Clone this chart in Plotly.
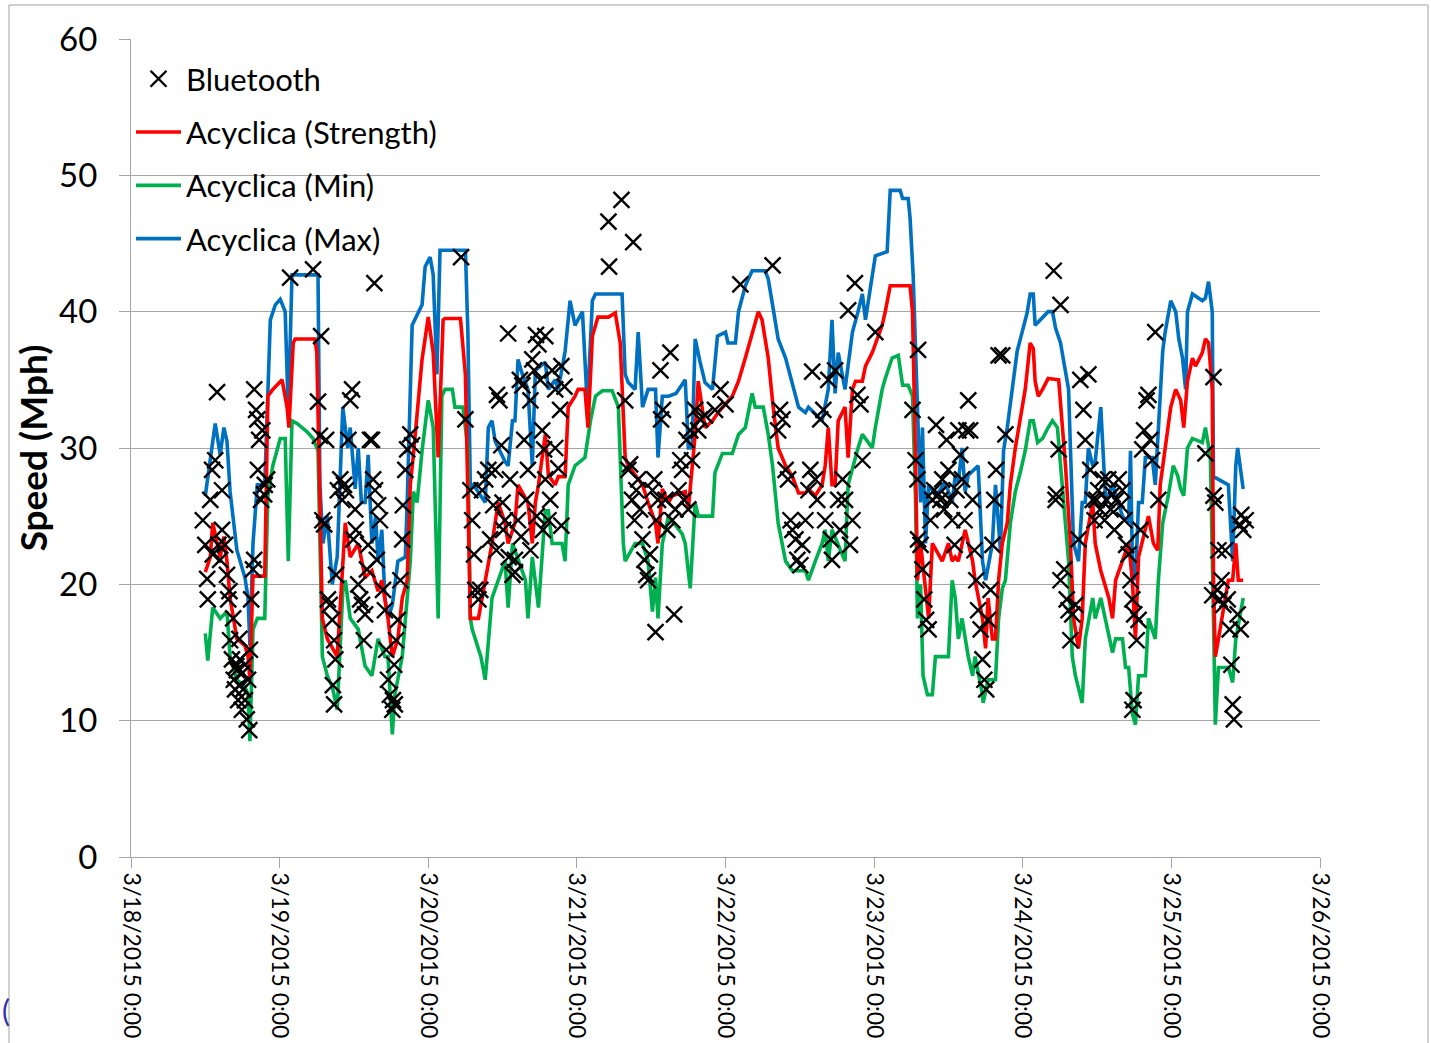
import pandas as pd
import plotly.graph_objects as go

# ---------------- data (hours since 3/18/2015 0:00, speed in mph) ----------------
max_hours = [12.0, 13.6, 14.4, 15.0, 15.5, 16.0, 17.1, 17.6, 18.4, 18.9, 19.2, 19.7, 20.4, 21.6, 22.5, 23.3, 24.1, 24.9, 25.4,
             26.0, 30.2, 30.5, 31.0, 31.7, 32.5, 33.3, 34.2, 35.0, 35.4, 36.2, 36.7, 37.2, 37.8, 38.3, 38.9, 39.5, 39.9, 40.5,
             41.0, 41.5, 42.2, 43.1, 44.3, 44.6, 45.1, 45.4, 47.0, 47.5, 48.3, 48.8, 49.4, 49.9, 54.0, 54.4, 54.8, 55.3, 57.2,
             57.7, 58.3, 58.8, 60.4, 60.9, 61.6, 62.0, 62.5, 63.2, 64.1, 64.8, 65.3, 66.9, 67.4, 68.5, 69.0, 70.1, 70.9, 71.7,
             72.9, 73.7, 74.5, 75.0, 79.3, 79.8, 80.3, 81.4, 81.9, 82.6, 83.5, 84.7, 85.1, 85.8, 86.8, 88.0, 89.5, 90.0, 90.6,
             91.1, 91.9, 92.7, 93.9, 94.7, 96.0, 96.4, 97.6, 98.1, 99.2, 100.3, 102.4, 102.9, 103.6, 104.5, 105.7, 106.8, 107.8,
             108.9, 109.4, 110.5, 111.6, 112.6, 113.2, 113.7, 114.2, 115.3, 116.5, 117.4, 118.1, 118.6, 119.7, 120.2, 122.1,
             122.6, 124.2, 124.6, 125.5, 125.8, 126.3, 126.7, 127.0, 127.5, 127.8, 128.3, 128.8, 130.0, 131.5, 132.6, 133.1,
             133.6, 134.2, 134.7, 135.2, 136.8, 137.5, 138.0, 139.1, 139.6, 140.4, 140.9, 141.5, 142.0, 142.5, 143.1, 143.9,
             144.7, 145.2, 145.7, 146.0, 146.8, 148.1, 148.8, 149.3, 150.1, 150.9, 151.4, 151.7, 152.2, 153.0, 153.6, 154.1,
             154.6, 155.3, 155.7, 156.6, 157.4, 158.5, 160.1, 161.1, 161.4, 161.7, 162.2, 162.7, 163.3, 163.8, 164.9, 165.4,
             165.9, 166.6, 167.0, 167.9, 168.7, 169.2, 169.8, 170.3, 170.6, 171.4, 173.0, 173.5, 174.0, 174.6, 174.8, 177.2,
             177.9, 178.4, 178.7, 179.6]
max_speed = [26.5, 31.8, 29.5, 31.5, 30.5, 26.8, 22.5, 21.7, 20.5, 19.0, 15.5, 23.0, 27.3, 27.3, 39.4, 40.5, 40.9, 40.0, 32.6,
             42.7, 42.7, 27.3, 23.0, 25.0, 20.0, 22.0, 33.0, 30.0, 31.5, 27.0, 30.0, 26.0, 26.0, 29.5, 23.0, 25.0, 21.7, 24.0,
             19.0, 17.5, 18.5, 21.7, 22.0, 26.0, 34.3, 39.0, 40.5, 43.3, 44.0, 42.7, 35.4, 44.5, 44.5, 38.5, 27.0, 27.3, 26.0,
             31.5, 32.0, 30.5, 29.0, 28.7, 32.0, 32.0, 36.5, 35.4, 34.3, 28.7, 35.7, 36.3, 34.3, 35.0, 34.3, 37.1, 40.8, 39.0,
             40.0, 33.0, 40.8, 41.3, 41.3, 35.4, 34.8, 34.3, 38.5, 33.0, 34.3, 34.3, 29.3, 33.8, 33.8, 34.0, 35.0, 30.0, 30.0,
             38.0, 36.3, 34.8, 34.3, 38.2, 38.5, 37.7, 37.7, 40.0, 41.9, 43.0, 43.0, 42.4, 40.5, 38.0, 36.6, 34.8, 33.0,
             32.6, 33.0, 32.5, 32.0, 34.3, 39.4, 34.0, 37.0, 34.3, 38.5, 40.0, 41.3, 39.4, 42.7, 44.1, 44.4,
             48.9, 48.9, 48.3, 48.3, 46.9, 42.7, 37.1, 31.5, 26.0, 31.5, 23.0, 27.3, 26.5, 27.5, 26.0, 28.0,
             27.5, 30.0, 26.8, 28.0, 28.7, 21.7, 20.3, 23.0, 27.3, 22.5, 29.8, 31.5, 33.2, 35.4, 37.1, 38.5,
             39.9, 41.3, 41.3, 39.0, 39.4, 40.0, 40.0, 38.8, 37.7, 35.7, 34.3, 30.0, 23.0, 21.7, 26.0, 26.0,
             30.0, 28.7, 29.0, 33.0, 26.0, 27.3, 25.0, 24.5, 29.8, 21.7, 20.3, 26.0, 26.0, 29.3, 29.3, 27.3,
             31.5, 37.1, 38.5, 40.8, 40.0, 38.0, 36.6, 34.3, 40.0, 41.3, 40.8, 41.0, 42.2, 40.0, 27.9, 27.3,
             21.7, 28.7, 30.0, 27.0]

strength_hours = [12.0, 12.8, 13.2, 13.9, 14.4, 15.0, 15.5, 16.0, 17.1, 18.4, 18.9, 19.2, 19.7, 21.6, 22.1, 22.9, 24.4, 25.2,
                  25.5, 26.2, 26.5, 29.7, 30.0, 30.9, 31.7, 33.3, 34.2, 34.6, 35.4, 36.7, 37.8, 38.9, 39.9, 40.5, 41.5, 42.2,
                  43.1, 43.8, 44.6, 45.1, 45.6, 47.0, 48.0, 48.8, 49.6, 50.4, 50.7, 53.2, 54.0, 54.4, 54.8, 56.1, 57.2, 58.3,
                  59.3, 60.4, 60.9, 62.0, 62.5, 64.1, 64.8, 65.3, 65.8, 66.9, 67.4, 68.5, 69.0, 70.1, 70.6, 71.7, 72.2, 73.3,
                  73.8, 74.5, 75.4, 77.1, 78.2, 79.0, 79.8, 80.3, 82.6, 83.5, 84.7, 85.1, 85.8, 86.8, 87.4, 89.5, 90.0, 91.1,
                  91.6, 92.7, 93.9, 94.8, 97.1, 98.1, 99.2, 100.3, 101.3, 101.9, 102.9, 103.7, 104.5, 105.7, 106.8, 107.8,
                  108.9, 109.4, 110.5, 111.6, 112.1, 112.6, 113.2, 113.7, 114.2, 115.3, 115.8, 116.5, 117.0, 118.1, 118.6,
                  119.7, 121.3, 121.8, 122.6, 125.8, 126.2, 126.7, 127.0, 127.5, 128.8, 129.4, 131.0, 132.0, 132.6, 133.1,
                  133.6, 134.7, 135.9, 136.3, 137.5, 138.0, 138.4, 139.1, 139.6, 140.1, 140.7, 141.5, 142.0, 142.8, 143.6,
                  144.4, 145.2, 145.7, 146.0, 146.5, 147.2, 148.1, 149.8, 150.4, 150.9, 151.7, 152.2, 153.0, 153.6, 154.1,
                  155.3, 155.7, 156.6, 157.9, 158.5, 159.0, 161.1, 161.7, 162.2, 162.7, 164.3, 165.1, 165.8, 166.2, 167.0,
                  167.9, 168.7, 169.5, 170.0, 170.6, 171.4, 171.9, 173.0, 173.5, 174.0, 174.6, 174.8, 175.1, 175.6, 177.2,
                  177.9, 178.4, 178.8, 179.6]
strength_speed = [20.9, 22.0, 24.5, 23.0, 22.0, 23.5, 21.7, 19.0, 16.0, 15.5, 14.7, 13.0, 20.6, 20.6, 33.8, 34.3, 35.0, 33.0,
                  31.5, 37.7, 38.0, 38.0, 37.0, 17.5, 16.0, 14.7, 21.7, 24.5, 22.0, 23.0, 20.5, 21.0, 19.5, 20.3, 17.5, 14.7,
                  16.0, 19.0, 20.3, 27.3, 29.5, 36.5, 39.6, 37.0, 29.3, 39.4, 39.5, 39.5, 35.4, 26.0, 17.5, 17.5, 20.3, 23.0,
                  26.0, 24.5, 23.0, 24.5, 27.3, 26.0, 23.0, 26.0, 27.3, 31.0, 28.0, 27.3, 27.9, 27.9, 33.0, 33.8, 34.3, 34.3,
                  31.5, 38.2, 39.6, 39.6, 39.9, 37.7, 29.3, 28.7, 27.3, 26.0, 24.5, 23.0, 27.0, 26.0, 26.5, 26.8, 25.5, 31.0,
                  34.9, 31.5, 32.0, 32.6, 33.8, 34.9, 36.6, 38.5, 40.0, 39.4, 36.6, 33.0, 30.0, 28.7, 27.9, 26.7,
                  26.7, 27.0, 26.5, 27.3, 28.7, 31.5, 27.3, 27.3, 32.0, 33.0, 29.3, 34.3, 34.9, 34.9, 36.0,
                  37.0, 39.0, 40.0, 41.9, 41.9, 40.0, 28.7, 20.3, 23.0, 17.5, 23.0, 21.7, 23.0, 21.7, 22.0,
                  21.7, 24.0, 21.7, 20.3, 17.5, 15.3, 19.0, 16.0, 16.0, 20.3, 23.0, 24.5, 27.3, 30.0, 32.0,
                  34.3, 37.7, 37.3, 34.9, 33.8, 34.3, 35.1, 35.0, 31.5, 28.7, 23.0, 17.5, 15.3, 17.5, 23.0,
                  26.0, 23.0, 21.0, 19.0, 17.5, 20.3, 23.0, 20.3, 16.0, 22.0, 25.0, 23.0, 22.5, 27.3, 29.8,
                  33.0, 34.3, 33.5, 31.5, 34.9, 36.6, 36.0, 37.0, 38.0, 37.7, 34.3, 20.3, 14.7, 16.0, 20.3,
                  20.3, 23.0, 20.3, 20.3]

min_hours = [12.0, 12.4, 13.2, 14.4, 15.5, 16.0, 17.1, 18.4, 18.9, 19.2, 19.7, 20.4, 21.6, 22.1, 22.9, 24.1, 24.9, 25.4, 26.0,
             26.8, 28.4, 29.4, 30.2, 30.9, 31.7, 32.5, 33.3, 34.2, 34.6, 35.4, 36.7, 37.8, 38.9, 39.9, 41.0, 41.5, 42.2, 42.6,
             43.8, 44.3, 45.1, 45.6, 46.2, 47.0, 48.0, 48.8, 49.6, 50.2, 50.7, 51.9, 52.3, 53.6, 54.4, 54.8, 55.1, 56.5, 57.2,
             58.3, 60.4, 60.9, 61.6, 63.7, 64.1, 64.8, 65.8, 66.9, 67.4, 68.0, 69.6, 70.1, 70.6, 71.7, 73.3, 74.2, 75.0, 76.1,
             77.7, 78.7, 79.5, 79.8, 81.4, 82.6, 83.5, 84.2, 84.7, 85.1, 85.8, 86.8, 89.0, 89.5, 90.3, 91.1, 91.6, 93.9, 94.3,
             95.5, 97.1, 98.1, 99.2, 100.3, 100.8, 102.1, 102.9, 103.6, 104.5, 105.7, 106.8, 108.9, 109.4, 110.5, 111.6,
             112.1, 112.6, 113.2, 115.3, 115.8, 116.6, 117.4, 118.1, 119.7, 120.2, 121.3, 121.8, 122.9, 123.9, 124.6, 125.5,
             126.2, 126.7, 127.0, 127.5, 127.9, 128.6, 129.4, 129.9, 132.0, 132.6, 133.1, 133.6, 134.2, 135.2, 135.9, 136.3,
             137.5, 137.6, 138.4, 139.6, 140.1, 140.7, 141.2, 142.0, 142.8, 143.6, 144.4, 145.2, 145.7, 146.4, 147.2, 148.1,
             148.8, 149.6, 150.4, 150.9, 151.4, 152.0, 152.5, 153.6, 154.1, 155.3, 155.7, 156.6, 157.9, 158.5, 159.0, 160.1,
             160.6, 161.1, 161.7, 162.2, 162.7, 163.8, 164.3, 165.4, 165.9, 166.6, 167.5, 168.3, 169.0, 169.5, 170.0, 170.6,
             171.4, 173.0, 173.5, 174.3, 174.8, 175.1, 175.6, 177.2, 177.9, 178.4, 179.6]
min_speed = [16.4, 14.4, 18.3, 17.5, 18.0, 14.7, 13.0, 12.5, 11.9, 8.5, 16.7, 17.5, 17.5, 26.5, 28.7, 30.7, 30.7, 21.7, 32.0,
             31.8, 31.2, 30.7, 29.8, 14.7, 13.3, 12.5, 10.8, 19.5, 20.3, 17.5, 16.7, 14.0, 13.3, 16.0, 14.7, 14.7, 9.0, 11.9,
             14.7, 17.5, 21.7, 26.8, 26.0, 29.8, 33.5, 31.5, 17.5, 33.8, 34.3, 34.3, 33.0, 33.0, 30.0, 17.5, 16.7, 14.7, 13.0,
             19.0, 21.7, 18.3, 23.0, 20.3, 17.5, 22.0, 18.3, 25.4, 25.4, 23.0, 23.0, 21.7, 27.3, 28.7, 29.3, 32.0, 33.8, 34.2,
             34.2, 33.0, 23.0, 21.7, 23.0, 23.0, 21.7, 18.0, 20.5, 17.5, 23.0, 25.0, 23.7, 23.0, 19.7, 26.0, 25.0, 25.0, 28.2,
             29.6, 29.6, 31.0, 31.5, 34.0, 33.0, 33.0, 31.0, 28.7, 24.5, 21.7, 21.0, 21.0, 20.3, 21.7, 23.0,
             24.0, 21.7, 24.0, 21.7, 27.3, 28.7, 30.0, 31.0, 30.0, 31.5, 34.3, 35.1, 36.6, 36.8, 34.6, 34.6,
             33.8, 26.0, 17.5, 20.0, 13.3, 11.9, 11.9, 14.7, 14.7, 20.3, 19.0, 16.0, 17.5, 14.7, 13.3, 14.7,
             11.9, 11.3, 13.0, 13.0, 17.5, 19.7, 20.3, 24.5, 26.8, 28.2, 29.8, 32.0, 32.0, 30.4, 30.7, 31.5,
             32.0, 31.5, 27.3, 24.5, 21.7, 14.7, 13.3, 11.3, 16.0, 19.0, 17.5, 19.0, 16.4, 15.0, 16.0, 16.0,
             13.9, 13.9, 10.5, 9.7, 13.3, 13.3, 17.5, 16.0, 20.3, 24.5, 26.5, 28.7, 28.0, 27.0, 26.5, 30.0,
             30.7, 30.4, 31.5, 29.3, 17.5, 9.7, 13.9, 13.9, 12.8, 16.0, 19.0]

bt_hours = [11.6, 12.0, 12.3, 12.4, 12.8, 13.1, 13.2, 13.6, 13.9, 14.1, 14.4, 14.7, 14.7, 15.2, 15.5, 15.7, 15.9, 16.0, 16.3,
            16.5, 16.6, 16.8, 17.0, 17.1, 17.3, 17.5, 17.6, 17.6, 17.9, 18.0, 18.1, 18.4, 18.4, 18.7, 18.9, 19.1, 19.2, 19.4,
            19.7, 19.9, 19.9, 20.2, 20.4, 20.5, 20.7, 21.0, 21.2, 21.5, 21.6, 22.0,
            25.7, 29.4, 30.2, 30.7, 30.5, 30.9, 31.2, 31.5, 31.8, 32.1, 32.5, 32.8, 33.0, 32.6, 32.8, 33.1, 33.4, 33.8, 34.1,
            34.4, 34.7, 35.1, 35.4, 35.7, 35.9, 36.2, 36.3, 36.7, 37.0, 37.3, 37.6, 37.8, 38.1, 38.3, 38.6, 38.9, 39.1, 39.3,
            39.4, 39.7, 39.9, 40.2, 40.7, 41.0, 41.2, 41.5, 41.8, 42.2, 42.3, 42.6, 42.5, 42.8, 43.1, 43.5, 43.8, 43.9, 44.3,
            44.6, 45.1, 45.4,
            53.3, 54.0, 54.8, 55.1, 55.4, 55.6, 56.1, 56.4, 56.7, 57.2, 57.7, 58.0, 58.5, 58.8, 59.0, 59.1, 59.5, 59.8, 60.0,
            60.1, 60.4, 60.9, 61.0, 61.2, 61.6, 62.0, 62.0, 62.5, 62.8, 63.0, 63.2, 63.5, 63.8, 64.1, 64.5, 64.5, 64.8, 65.1,
            65.4, 65.5, 65.8, 66.1, 66.4, 66.5, 66.7, 66.9, 66.9, 67.4, 67.7, 68.0, 68.5, 68.5, 69.0, 69.3, 69.5, 69.5, 70.0,
            77.1, 79.2, 81.1, 77.2,
            79.8, 80.3, 80.6, 80.9, 81.3, 81.6, 81.9, 82.2, 82.6, 82.9, 83.2, 83.5, 83.8, 84.2, 84.5, 84.7, 84.8, 85.1, 85.5,
            85.6, 85.9, 86.3, 86.6, 87.1, 87.4, 87.7, 87.9, 88.4, 88.7, 89.0, 89.3, 89.7, 90.0, 90.3, 90.6, 91.1, 91.6, 91.9,
            92.7, 94.3, 95.2, 96.0, 98.4, 103.6,
            104.5, 104.8, 105.2, 105.7, 106.1, 106.5, 106.8, 107.3, 107.6, 108.1, 108.4, 108.9, 109.4, 109.7, 110.0, 110.5,
            110.8, 111.3, 111.8, 112.1, 112.6, 113.0, 113.2, 113.7, 114.2, 114.5, 114.9, 115.3, 115.8, 116.1, 116.5, 116.9,
            117.3, 117.8, 118.1, 120.2,
            127.1, 126.2, 126.7, 127.0, 127.1, 127.5, 127.8, 128.1, 128.4, 128.8, 129.1, 129.4, 129.7, 130.0, 130.4, 130.7,
            131.0, 131.3, 131.7, 132.0, 132.3, 132.6, 133.0, 133.3, 133.6, 133.9, 134.2, 134.6, 134.9, 135.2, 135.5, 135.9,
            136.2, 136.5, 136.8, 137.2, 137.5, 137.8, 138.1, 138.4, 138.8, 139.1, 139.4, 139.7, 140.1, 140.7, 141.2,
            149.0, 150.1, 149.4, 149.8, 149.3, 150.1, 150.7, 151.1, 151.4, 151.7, 152.0, 152.5, 153.0, 153.3, 153.8, 154.1,
            154.6, 154.9, 155.3, 155.6, 155.9, 156.2, 156.5, 156.9, 157.2, 157.5, 157.8, 158.2, 158.5, 158.8, 159.1, 159.5,
            159.8, 160.1, 160.4, 160.7, 161.1, 161.4, 161.7, 162.0, 162.4, 161.9, 161.7, 162.7, 163.0, 163.3, 163.6, 164.0,
            164.3, 164.6, 164.9, 165.4, 165.9,
            173.5, 174.8, 174.8, 175.1, 175.4, 175.8, 176.1, 176.4, 176.7, 177.1, 177.4, 177.7, 177.9, 178.1, 178.7, 179.0,
            179.3, 179.6, 180.0, 179.2, 175.6, 174.6]
bt_speed = [24.7, 22.9, 20.4, 18.9, 26.2, 28.4, 22.2, 29.1, 34.1, 22.9, 21.8, 26.9, 24.0, 22.9, 20.7, 18.9, 19.5, 15.9, 14.5,
            17.5, 13.0, 12.3, 14.0, 13.7, 11.5, 16.0, 14.5, 12.6, 10.8, 13.5, 12.3, 14.1, 11.5, 10.1, 13.0, 9.3, 15.2, 18.9,
            21.1, 21.8, 34.3, 32.8, 32.1, 28.4, 30.6, 26.2, 31.3, 26.6, 27.3, 27.7,
            42.5, 43.1, 33.4, 38.2, 30.9, 24.7, 24.4, 30.6, 18.9, 18.5, 17.4, 15.9, 14.5, 12.6, 11.2, 20.7, 26.9, 27.7, 26.2,
            27.3, 26.9, 30.6, 33.5, 34.3, 23.3, 25.5, 24.0, 20.0, 18.9, 18.5, 15.9, 17.8, 21.1, 22.9, 30.6, 30.6, 27.7, 42.1,
            26.9, 21.8, 25.8, 24.7, 19.6, 18.1, 15.2, 13.0, 11.9, 10.8, 11.5, 11.2, 14.1, 15.9, 17.4, 20.3, 23.3, 25.8, 28.4,
            29.9, 31.0, 30.2,
            44.0, 32.1, 26.9, 24.7, 22.2, 19.6, 18.9, 19.6, 26.9, 27.7, 28.4, 23.3, 25.8, 28.4, 22.5, 33.9, 33.5, 30.2, 26.0,
            24.0, 24.7, 38.4, 22.0, 27.7, 20.7, 21.8, 20.9, 24.7, 35.0, 23.5, 34.6, 30.6, 26.2, 28.4, 33.5, 22.5, 36.5, 35.7,
            38.3, 25.0, 37.6, 35.0, 31.3, 24.0, 29.9, 27.7, 38.2, 24.7, 26.2, 35.7, 34.3, 30.0, 28.5, 32.8, 36.0, 24.3, 34.5,
            46.6, 48.2, 45.1, 43.3,
            33.5, 28.4, 28.8, 26.2, 24.7, 26.9, 27.7, 25.5, 23.3, 21.8, 20.7, 20.3, 22.2, 26.9, 27.7, 16.5, 24.7, 26.2, 35.7,
            32.1, 32.8, 26.2, 24.0, 37.0, 24.7, 17.8, 25.5, 26.9, 29.1, 28.4, 26.2, 30.6, 25.5, 31.3, 29.1, 32.8, 31.3, 32.1,
            32.4, 32.8, 34.3, 33.2, 42.0, 43.4,
            31.3, 32.8, 32.1, 28.4, 27.7, 24.7, 24.0, 23.3, 21.8, 21.4, 22.9, 24.7, 26.9, 28.4, 35.6, 27.7,
            26.2, 32.1, 32.8, 24.7, 35.0, 23.3, 21.8, 35.7, 26.2, 24.0, 27.7, 26.2, 40.1, 22.9, 24.7, 42.1,
            33.9, 33.2, 29.1, 38.5,
            37.2, 32.8, 29.1, 27.7, 23.3, 22.9, 21.1, 18.9, 17.4, 16.7, 24.7, 26.2, 26.9, 31.7, 26.6, 26.2,
            27.7, 25.5, 30.6, 28.4, 26.2, 24.7, 22.9, 26.9, 31.3, 29.5, 27.7, 24.7, 31.3, 33.5, 31.3, 26.2,
            22.5, 20.3, 18.1, 16.7, 14.5, 13.0, 12.3, 17.4, 19.6, 22.9, 26.2, 28.4, 36.8, 36.8, 31.0,
            43.0, 40.5, 26.6, 29.9, 26.2, 20.3, 21.1, 18.9, 18.1, 15.9, 17.8, 18.5, 23.3, 35.0, 32.8, 30.6,
            35.4, 28.4, 26.2, 24.7, 26.2, 26.9, 25.5, 27.7, 24.7, 26.2, 27.7, 25.5, 26.6, 24.0, 26.2, 27.7,
            25.8, 26.9, 24.7, 22.9, 22.2, 20.3, 18.9, 17.8, 15.9, 11.5, 10.8, 17.4, 24.0, 29.9, 31.3, 33.5,
            33.9, 30.6, 29.1, 38.5, 26.2,
            29.6, 35.2, 26.5, 26.0, 19.6, 18.9, 20.3, 18.5, 22.5, 18.9, 16.7, 14.1, 11.2, 10.1, 17.8, 24.4,
            25.1, 24.0, 24.7, 16.7, 22.5, 19.2]

day_ticks = ["2015-03-%02d" % d for d in range(18, 27)]
day_labels = ["3/%d/2015 0:00" % d for d in range(18, 27)]

BASE = pd.Timestamp("2015-03-18 00:00")


def to_time(hours):
    return [BASE + pd.Timedelta(hours=h) for h in hours]


FONT = "Lato"
GRID = "#A6A6A6"

fig = go.Figure()
fig.add_trace(go.Scatter(x=to_time(max_hours), y=max_speed, mode="lines", name="Acyclica (Max)",
                         line=dict(color="#0070C0", width=3.6), legendrank=4, legendgroup="d"))
fig.add_trace(go.Scatter(x=to_time(min_hours), y=min_speed, mode="lines", name="Acyclica (Min)",
                         line=dict(color="#00B050", width=3.6), legendrank=3, legendgroup="c"))
fig.add_trace(go.Scatter(x=to_time(strength_hours), y=strength_speed, mode="lines", name="Acyclica (Strength)",
                         line=dict(color="#FF0000", width=3.6), legendrank=2, legendgroup="b"))
fig.add_trace(go.Scatter(x=to_time(bt_hours), y=bt_speed, mode="markers", name="Bluetooth",
                         marker=dict(symbol="x-thin", size=16, color="black", line=dict(width=2.4, color="black")),
                         legendrank=1, legendgroup="a"))

fig.update_layout(
    width=1431, height=1043, autosize=False,
    margin=dict(l=131, r=111, t=39, b=186),
    paper_bgcolor="white", plot_bgcolor="white",
    font=dict(family=FONT, color="black"),
    showlegend=True,
    legend=dict(x=0.0, y=0.984, xanchor="left", yanchor="top", bgcolor="rgba(0,0,0,0)",
                font=dict(family=FONT, size=31, color="black"), tracegroupgap=10, itemwidth=45),
    xaxis=dict(type="date", range=[day_ticks[0], day_ticks[-1]], tickvals=day_ticks, ticktext=day_labels,
               tickangle=90, tickfont=dict(family=FONT, size=23, color="black"),
               showgrid=False, zeroline=False, showline=True, linecolor=GRID, linewidth=1,
               ticks="outside", ticklen=10, tickcolor=GRID, automargin=False),
    yaxis=dict(range=[0, 60], dtick=10, tick0=0, showgrid=True, gridcolor=GRID, gridwidth=1,
               zeroline=False, showline=True, linecolor=GRID, linewidth=1,
               ticks="outside", ticklen=11, tickcolor=GRID, ticklabelstandoff=15,
               tickfont=dict(family=FONT, size=33, color="black"), automargin=False,
               title=dict(text="<b>Speed (Mph)</b>", font=dict(family=FONT, size=37, color="black"), standoff=0)),
)

# outer frame of the original slide/screenshot
fig.add_shape(type="line", xref="paper", yref="paper", x0=-0.1026, x1=1.0908, y0=1.0416, y1=1.0416,
              line=dict(color="#A0A0A0", width=1))
fig.add_shape(type="line", xref="paper", yref="paper", x0=-0.1026, x1=-0.1026, y0=1.0416, y1=-0.3,
              line=dict(color="#A0A0A0", width=1))
fig.add_shape(type="line", xref="paper", yref="paper", x0=1.0908, x1=1.0908, y0=1.0416, y1=-0.3,
              line=dict(color="#A0A0A0", width=1))
# clipped glyph at the lower-left edge of the original
fig.add_annotation(text="(", xref="paper", yref="paper", x=-0.1102, y=-0.187, xanchor="left", yanchor="middle",
                   showarrow=False, font=dict(family=FONT, size=30, color="#3333AA"))

fig.write_html("out.html", config={"displayModeBar": False},
               post_script="document.body.style.margin='0';")
